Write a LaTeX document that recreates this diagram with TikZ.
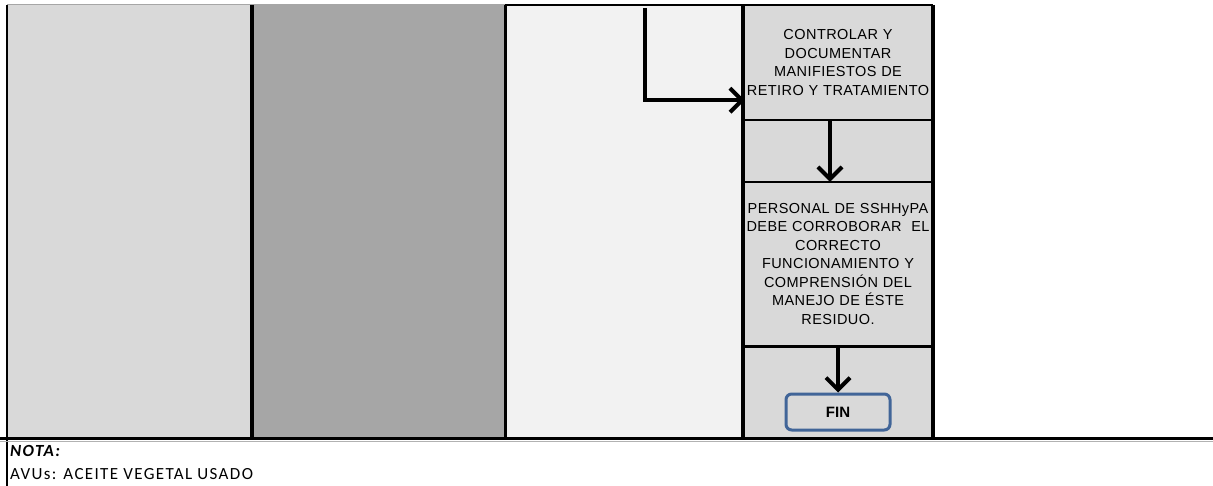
\documentclass[tikz,border=0pt]{standalone}
\usepackage{fontspec}
\setmainfont{Liberation Sans}
\newfontfamily\boxfont[LetterSpace=3]{Liberation Sans}
\newfontfamily\notefont[LetterSpace=8]{Carlito}
\usepackage{tikz}
\usetikzlibrary{arrows.meta}
\definecolor{lanegray}{RGB}{217, 217, 217}
\definecolor{darklane}{RGB}{166, 166, 166}
\definecolor{palelane}{RGB}{242, 242, 242}
\definecolor{finblue}{RGB}{65, 101, 152}

\begin{document}
\begin{tikzpicture}[x=1pt, y=-1pt,
            cell/.style = {draw=none, inner sep=0pt, minimum width=186pt, text width=186pt, align=center, font=\boxfont\fontsize{14.5}{18.5}\selectfont},
            finbox/.style = {draw=finblue, line width=3pt, fill=lanegray, rounded corners=2mm, minimum width=104pt, minimum height=36pt, font=\fontsize{15}{16}\selectfont\bfseries},
            flow/.style = {-{Straight Barb[length=12pt,width=24pt]}, line width=4pt},
            note/.style = {anchor=west, inner sep=0pt, font=\notefont\fontsize{17}{18}\selectfont}]
        \useasboundingbox (0,0) rectangle (1213,486);
        % lanes
        \fill[lanegray] (7,5) rectangle (252,438);
        \fill[darklane] (252,5) rectangle (505,438);
        \fill[palelane] (505,5) rectangle (743,438);
        \fill[lanegray] (743,5) rectangle (933,438);

        \node[cell, minimum height=115pt] (ctrl) at (838,62.5) {CONTROLAR Y\\DOCUMENTAR\\MANIFIESTOS DE\\RETIRO Y TRATAMIENTO};
        \node[cell, minimum height=62pt] (gap) at (838,151) {};
        \node[cell, minimum height=164pt] (pers) at (838,264) {PERSONAL DE SSHHyPA\\DEBE CORROBORAR\ \ EL\\CORRECTO\\FUNCIONAMIENTO Y\\COMPRENSIÓN DEL\\MANEJO DE ÉSTE\\RESIDUO.};
        \node[finbox] (fin) at (838,412) {FIN};

        % grid lines
        \draw[gray!70, line width=1pt] (7,5) -- (505,5);
        \draw[line width=1.5pt] (505,5) -- (933,5);
        \draw[line width=2pt] (743,120.5) -- (933,120.5);
        \draw[line width=2pt] (743,182) -- (933,182);
        \draw[line width=3pt] (743,346.5) -- (933,346.5);
        \draw[line width=2pt] (7,5) -- (7,486);
        \draw[line width=4pt] (252,5) -- (252,438);
        \draw[line width=3pt] (505.5,5) -- (505.5,438);
        \draw[line width=4pt] (743,5) -- (743,438);
        \draw[line width=4pt] (933,5) -- (933,438);
        \draw[gray!60, line width=1pt] (0,441) -- (1213,441);
        \draw[line width=3pt] (0,438.5) -- (1213,438.5);

        % arrows
        \coordinate (from) at (645,8);
        \draw[flow] (from) |- ([yshift=20pt]ctrl.south west);
        \draw[flow] ([xshift=-8pt]ctrl.south) -- ([xshift=-8pt]pers.north);
        \draw[flow] (pers.south) -- (fin.north);

        \node[note, font=\notefont\fontsize{17}{18}\selectfont\bfseries\itshape] (nota) at (10,451) {NOTA:};
        \node[note] (avus) at (10,474) {AVUs: ACEITE VEGETAL USADO};
        \end{tikzpicture}
\end{document}
